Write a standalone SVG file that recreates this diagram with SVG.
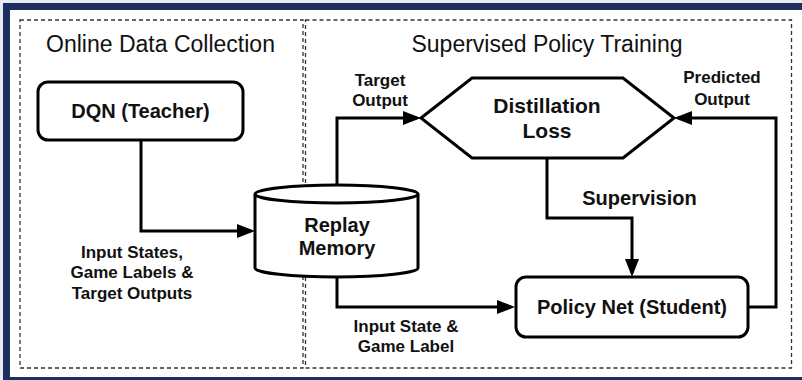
<svg xmlns="http://www.w3.org/2000/svg" width="802" height="380" viewBox="0 0 802 380">
  <style>
    .node { fill: #ffffff; stroke: #000000; stroke-width: 3; }
    .panel { fill: none; stroke: #333333; stroke-width: 1.3; stroke-dasharray: 4 3; }
    .title { font-family: "Liberation Sans", Arial, sans-serif; font-size: 23px; fill: #111111; text-anchor: middle; }
    .label { font-family: "Liberation Sans", Arial, sans-serif; font-size: 20px; font-weight: bold; fill: #111111; text-anchor: middle; }
    .small { font-family: "Liberation Sans", Arial, sans-serif; font-size: 17px; font-weight: bold; fill: #111111; text-anchor: middle; }
    .edge { fill: none; stroke: #000000; stroke-width: 3; stroke-linejoin: miter; }
  </style>
  <defs>
    <marker id="arrow" viewBox="0 0 18 14" refX="14" refY="7" markerWidth="18" markerHeight="14" markerUnits="userSpaceOnUse" orient="auto">
      <path d="M0,0 L18,7 L0,14 Z" fill="#000000"/>
    </marker>
  </defs>

  <!-- page frame -->
  <rect x="0" y="0" width="802" height="380" fill="#e8ebf1"/>
  <rect x="3" y="3" width="799" height="377" fill="#1c2f5e"/>
  <rect x="10" y="10" width="792" height="367" fill="#ffffff"/>

  <!-- dashed panels -->
  <g id="panel-collection">
    <rect class="panel" x="20" y="20" width="283" height="348"/>
    <text class="title" x="160.5" y="52">Online Data Collection</text>
  </g>
  <g id="panel-training">
    <rect class="panel" x="305.5" y="20" width="486" height="348"/>
    <text class="title" x="547" y="52">Supervised Policy Training</text>
  </g>

  <!-- connectors -->
  <g id="connectors">
    <path class="edge" d="M141,140 V231 H251" marker-end="url(#arrow)"/>
    <path class="edge" d="M337,277 V307 H511" marker-end="url(#arrow)"/>
    <path class="edge" d="M337,185 V118 H417" marker-end="url(#arrow)"/>
    <path class="edge" d="M547,158 V218 H632 V273" marker-end="url(#arrow)"/>
    <path class="edge" d="M748,307 H776 V118 H678" marker-end="url(#arrow)"/>

    <text class="small" x="132" y="258">Input States,</text>
    <text class="small" x="132" y="278">Game Labels &amp;</text>
    <text class="small" x="132" y="299">Target Outputs</text>

    <text class="small" x="380" y="86">Target</text>
    <text class="small" x="380" y="106">Output</text>

    <text class="small" x="722" y="83">Predicted</text>
    <text class="small" x="722" y="105">Output</text>

    <text class="small" x="406" y="332">Input State &amp;</text>
    <text class="small" x="406" y="352">Game Label</text>

    <text class="label" x="639.5" y="205">Supervision</text>
  </g>

  <!-- nodes -->
  <g id="dqn-teacher">
    <rect class="node" x="38" y="82" width="205" height="58" rx="10" ry="10"/>
    <text class="label" x="140.5" y="118">DQN (Teacher)</text>
  </g>

  <g id="replay-memory">
    <path class="node" d="M255,194 V268 A81.5,9 0 0 0 418,268 V194 A81.5,9 0 0 0 255,194 Z"/>
    <path class="node" fill="none" d="M255,194 A81.5,9 0 0 0 418,194"/>
    <text class="label" x="337" y="232">Replay</text>
    <text class="label" x="337" y="255">Memory</text>
  </g>

  <g id="distillation-loss">
    <polygon class="node" points="421,118 472,78 623,78 674,118 623,158 472,158"/>
    <text class="label" style="font-size:21px" x="547" y="113">Distillation</text>
    <text class="label" style="font-size:21px" x="547" y="138">Loss</text>
  </g>

  <g id="policy-net">
    <rect class="node" x="516" y="277" width="232" height="60" rx="10" ry="10"/>
    <text class="label" x="632" y="314">Policy Net (Student)</text>
  </g>
</svg>
